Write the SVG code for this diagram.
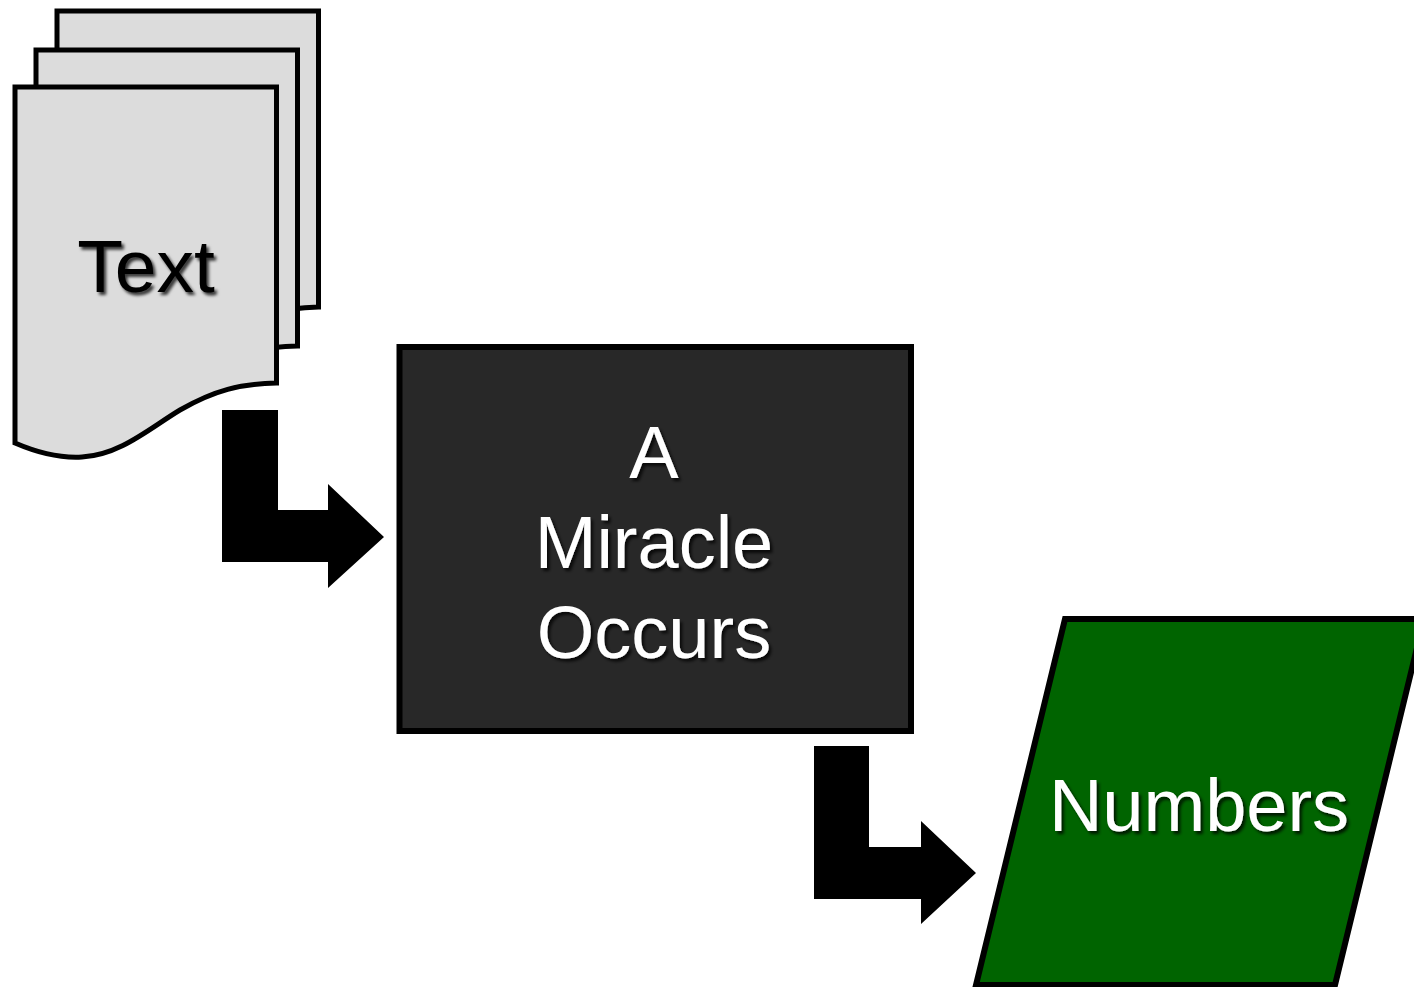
<svg xmlns="http://www.w3.org/2000/svg" width="1414" height="987" viewBox="0 0 1414 987">
  <style>
    .page { fill: #dcdcdc; stroke: #000; stroke-width: 5; stroke-linejoin: miter; }
    .lbl { font-family: "Liberation Sans", Arial, Helvetica, sans-serif; font-size: 74px; text-anchor: middle; filter: url(#shadow); }
    .arrow { fill: #000; stroke: none; }
  </style>
  <defs>
    <filter id="shadow" x="-20%" y="-20%" width="140%" height="140%">
      <feDropShadow dx="2.5" dy="3" stdDeviation="1.5" flood-color="#000" flood-opacity="0.75"/>
    </filter>
    <path id="doc" d="M15,87 H276.5 V383 C240,384 215,390 180,410 C150,428 120,455 82,457 C65,458 45,456 15,443 Z"/>
  </defs>
  <rect width="1414" height="987" fill="#fff"/>

  <g id="node-text">
    <use href="#doc" class="page" transform="translate(42,-76)"/>
    <use href="#doc" class="page" transform="translate(21,-37)"/>
    <use href="#doc" class="page"/>
    <text class="lbl" x="146" y="292" fill="#000" style="font-size:75px">Text</text>
  </g>

  <g id="node-miracle">
    <rect x="399.5" y="347" width="511.5" height="384" fill="#282828" stroke="#000" stroke-width="6"/>
    <text class="lbl" x="654" y="478" fill="#fff">A</text>
    <text class="lbl" x="654" y="568" fill="#fff">Miracle</text>
    <text class="lbl" x="654" y="658" fill="#fff">Occurs</text>
  </g>

  <g id="node-numbers">
    <polygon points="1065,619 1424,619 1335,985 976,985" fill="#006400" stroke="#000" stroke-width="6"/>
    <text class="lbl" x="1199" y="831" fill="#fff">Numbers</text>
  </g>

  <g id="connectors">
    <polygon class="arrow" points="222,410 278,410 278,510 328,510 328,484 384,537 328,588 328,562 222,562"/>
    <polygon class="arrow" points="814,746 869,746 869,847 921,847 921,821 976,873 921,924 921,899 814,899"/>
  </g>
</svg>
